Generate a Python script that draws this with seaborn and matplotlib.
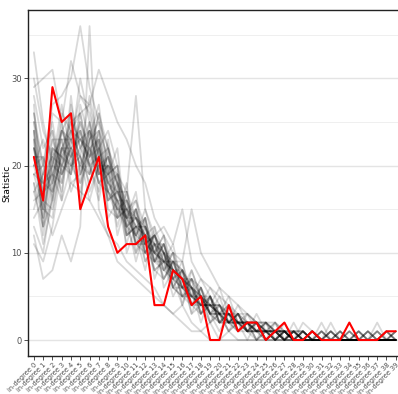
import matplotlib
matplotlib.use("Agg")
import matplotlib.pyplot as plt
import seaborn as sns
import pandas as pd

categories = [f"in-degree {i}" for i in range(40)]

observed = [21, 16, 29, 25, 26, 15, 18, 21, 13, 10, 11, 11, 12, 4, 4, 8, 7, 4, 5, 0,
            0, 4, 1, 2, 2, 0, 1, 2, 0, 0, 1, 0, 0, 0, 2, 0, 0, 0, 1, 1]

sim_01 = [22,18,20,24,21,25,19,22,17,16,14,15,11,12,9,8,7,5,6,3,4,2,3,1,2,2,1,0,1,0,1,0,0,1,0,0,1,0,0,1]
sim_02 = [19,15,22,18,23,20,24,19,21,15,16,12,14,10,11,7,8,6,4,5,3,4,2,2,1,1,2,1,0,1,0,0,1,0,0,1,0,0,0,0]
sim_03 = [25,20,17,21,26,22,20,24,18,19,13,14,12,9,10,9,6,7,5,4,4,3,2,3,1,2,0,1,1,0,0,1,0,0,0,0,1,0,1,0]
sim_04 = [17,13,19,23,19,27,23,18,20,14,15,11,13,11,8,10,7,4,5,5,2,3,3,1,2,0,1,1,0,2,1,0,0,1,0,0,0,1,0,0]
sim_05 = [28,22,24,19,22,18,25,21,16,18,12,13,10,12,9,6,8,6,3,4,3,2,2,2,1,1,1,0,1,0,0,0,2,0,1,0,0,0,0,1]
sim_06 = [20,16,15,20,25,23,21,26,22,17,17,14,11,10,12,8,5,7,6,3,5,2,4,2,1,2,1,1,0,1,0,1,0,0,0,1,0,0,0,0]
sim_07 = [23,12,18,22,20,21,28,22,19,20,14,16,13,8,9,11,6,5,7,5,3,4,1,3,2,1,2,0,1,0,0,0,1,0,0,0,0,2,0,0]
sim_08 = [15,19,21,17,24,26,20,17,23,15,13,12,15,11,7,9,9,4,4,6,4,2,3,1,3,1,0,2,0,0,1,0,0,0,1,0,0,0,1,0]
sim_09 = [24,17,26,25,18,19,22,23,15,14,18,10,12,13,10,7,6,8,5,2,3,5,2,2,0,2,1,0,1,1,0,0,0,1,0,1,0,0,0,0]
sim_10 = [21,21,16,24,23,24,17,20,21,16,11,15,9,11,11,8,7,3,6,4,6,3,1,2,2,0,1,1,0,0,0,1,0,0,0,0,1,0,0,1]
sim_11 = [18,14,20,27,21,17,23,25,17,19,15,13,14,7,10,6,8,6,2,5,2,3,2,1,1,1,0,0,2,0,1,0,0,0,0,0,0,1,0,0]
sim_12 = [26,18,19,16,27,22,24,19,20,12,16,11,10,12,8,10,4,7,5,3,3,1,3,2,2,0,1,1,0,1,0,0,1,0,0,0,0,0,1,0]
sim_13 = [13,10,17,21,23,28,26,21,18,17,13,14,12,9,11,7,6,5,4,4,2,4,2,1,1,2,0,1,0,0,0,2,0,1,0,0,0,0,0,0]
sim_14 = [22,16,23,20,19,24,20,16,22,18,14,9,13,10,7,9,8,4,3,5,3,2,3,1,0,1,1,0,1,0,1,0,0,0,1,0,0,0,0,0]
sim_15 = [30,24,21,23,17,20,19,24,14,16,12,15,11,8,9,5,7,6,4,2,4,2,1,2,2,1,0,1,0,0,0,0,0,0,0,0,0,1,0,0]
sim_16 = [19,20,25,19,22,16,23,27,19,13,17,12,8,13,6,8,5,4,6,3,1,3,2,2,1,0,2,0,0,1,0,0,0,0,0,1,0,0,0,0]
sim_17 = [16,17,18,26,24,21,18,22,24,20,10,13,12,10,12,6,6,7,3,4,3,1,2,0,2,1,1,0,0,0,0,0,1,0,0,0,0,0,0,1]
sim_18 = [24,13,22,21,20,25,22,18,17,15,15,16,10,11,9,10,5,5,5,3,2,2,3,1,1,1,0,1,0,0,0,0,0,0,0,0,1,0,0,0]
sim_19 = [20,23,19,18,28,19,24,20,20,18,13,10,14,9,8,7,9,5,4,4,3,3,1,2,1,1,0,0,1,0,1,0,0,0,0,0,0,0,0,0]
sim_20 = [27,15,14,22,21,23,21,23,16,17,14,12,11,12,10,8,6,4,6,2,3,2,2,2,0,1,1,1,0,0,1,0,0,0,0,0,0,0,1,0]
sim_21 = [11,9,13,20,22,30,25,19,21,18,16,14,13,10,9,8,7,6,5,3,4,2,2,1,1,1,1,0,0,0,0,0,0,0,0,0,0,0,0,0]
sim_22 = [22,19,24,16,20,18,21,26,19,22,12,13,9,11,10,6,5,6,3,5,2,3,2,1,2,0,0,1,0,1,0,0,0,0,0,0,0,0,0,0]
sim_23 = [33,25,20,24,22,21,16,20,17,14,15,11,12,8,7,9,8,3,4,4,3,1,2,2,1,1,0,1,0,0,0,0,0,0,0,0,0,0,0,0]
sim_24 = [18,11,16,22,25,26,27,21,18,16,14,17,10,9,11,7,4,8,5,3,2,2,1,1,1,0,1,0,1,0,0,0,0,0,0,0,0,0,0,0]
sim_25 = [26,20,27,28,30,36,29,25,22,19,17,28,15,12,13,11,15,9,7,6,5,4,3,3,2,2,1,1,0,1,0,0,0,0,0,0,0,0,0,0]
sim_26 = [12,7,8,12,9,13,36,15,12,9,8,7,6,5,4,3,2,1,1,0,0,0,0,0,0,0,0,0,0,0,0,0,0,0,0,0,0,0,0,0]
sim_27 = [29,30,31,25,32,28,27,31,28,25,23,20,18,14,12,10,9,15,10,8,6,5,4,3,2,2,2,1,1,1,0,0,0,0,0,0,0,0,0,0]
sim_28 = [14,16,12,15,18,17,16,14,12,11,9,8,7,6,4,3,4,2,1,2,0,1,0,0,0,0,0,0,0,0,0,0,0,0,0,0,0,0,0,0]
sim_29 = [21,17,19,22,22,23,22,20,19,17,15,14,12,11,10,8,7,6,5,4,3,3,2,2,2,1,1,1,1,0,1,0,1,0,0,0,1,0,0,0]
sim_30 = [23,14,21,20,24,21,19,23,18,16,16,13,13,10,9,9,6,5,4,4,4,2,3,1,1,2,1,0,0,1,0,0,0,1,0,1,0,0,0,0]
sim_31 = [19,18,17,25,20,22,25,19,20,19,13,15,11,12,10,7,8,5,5,3,3,3,1,2,2,1,0,1,1,0,0,1,0,0,0,0,0,0,1,0]
sim_32 = [25,16,22,21,19,26,21,22,17,15,14,12,14,9,11,8,7,7,3,5,2,2,2,2,1,1,1,1,0,0,1,0,0,0,1,0,0,0,0,0]
sim_33 = [17,19,23,23,23,20,23,24,21,18,12,13,12,11,8,9,6,6,4,4,4,3,2,1,2,1,1,0,1,1,0,0,0,0,0,0,0,1,0,0]
sim_34 = [22,15,20,19,21,24,20,21,22,14,17,11,11,10,9,8,8,4,5,4,3,2,3,2,0,1,1,1,0,0,0,1,0,0,0,0,0,0,0,1]
sim_35 = [20,21,18,24,26,19,22,18,19,20,14,14,10,12,10,6,5,6,5,3,3,2,2,1,2,0,1,0,1,0,1,0,0,0,0,0,0,0,0,0]
sim_36 = [24,13,16,22,24,23,24,22,16,17,15,13,13,9,9,9,7,5,4,5,2,3,2,2,1,1,0,1,0,1,0,0,1,0,0,0,0,0,0,0]

simulations = [sim_01, sim_02, sim_03, sim_04, sim_05, sim_06, sim_07, sim_08, sim_09, sim_10,
               sim_11, sim_12, sim_13, sim_14, sim_15, sim_16, sim_17, sim_18, sim_19, sim_20,
               sim_21, sim_22, sim_23, sim_24, sim_25, sim_26, sim_27, sim_28, sim_29, sim_30,
               sim_31, sim_32, sim_33, sim_34, sim_35, sim_36]

rows = []
for k, sim in enumerate(simulations):
    for i, v in enumerate(sim):
        rows.append({"sim": k, "x": i, "Statistic": v})
sim_df = pd.DataFrame(rows)
obs_df = pd.DataFrame({"x": list(range(len(observed))), "Statistic": observed})

sns.set_theme(style="white")
plt.rcParams['font.family'] = ['DejaVu Sans']

fig = plt.figure(figsize=(3.98, 3.94), dpi=100)
ax = fig.add_axes([28.3 / 398, 1 - 355.7 / 394, 1 - 28.3 / 398 + 0.002, (355.7 - 10.4) / 394])

# gridlines
for y in [5, 15, 25, 35]:
    ax.axhline(y, color="#ededed", lw=0.6, zorder=0)
for y in [0, 10, 20, 30]:
    ax.axhline(y, color="#e4e4e4", lw=1.0, zorder=0)

sns.lineplot(data=sim_df, x="x", y="Statistic", units="sim", estimator=None,
             color="black", alpha=0.15, lw=1.3, ax=ax, legend=False)
sns.lineplot(data=obs_df, x="x", y="Statistic", color="#ff0000", lw=1.5,
             ax=ax, legend=False, zorder=5)

ax.set_xlim(-0.6, 39.33)
ax.set_ylim(-1.8, 37.8)
ax.set_xticks(range(len(categories)))
ax.set_xticklabels(categories, rotation=45, ha="right", rotation_mode="anchor",
                   fontsize=4.8, color="#4d4d4d")
ax.set_yticks([0, 10, 20, 30])
ax.set_yticklabels(["0", "10", "20", "30"], fontsize=6.0, color="#4d4d4d")
ax.set_xlabel("")
ax.set_ylabel("")
fig.text(7.0 / 398, 1 - 183 / 394, "Statistic", rotation=90, fontsize=6.6,
         color="black", ha="center", va="center")
ax.tick_params(axis="both", direction="out", length=3, width=0.6, color="#333333", pad=1.5,
               bottom=True, left=True)
for side in ["left", "bottom", "top"]:
    ax.spines[side].set_visible(True)
    ax.spines[side].set_color("#222222")
    ax.spines[side].set_linewidth(1.0)
ax.spines["right"].set_visible(False)

fig.savefig("out.png", dpi=100)
